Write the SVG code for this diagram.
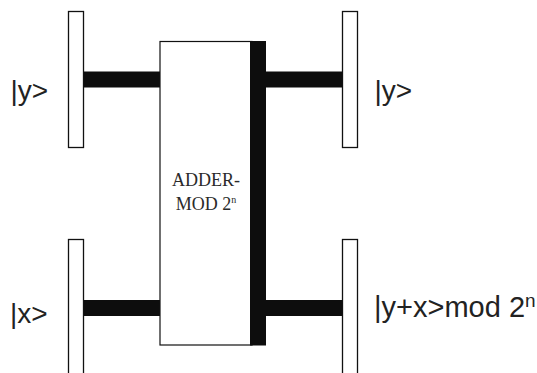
<svg xmlns="http://www.w3.org/2000/svg" width="537" height="373" viewBox="0 0 537 373">
  <style>
    .reg { fill: #ffffff; stroke: #111111; stroke-width: 1.3; }
    .box { fill: #ffffff; stroke: #111111; stroke-width: 1.2; }
    .wire { fill: #0d0d0d; stroke: none; }
    .lbl { font-family: "Liberation Sans", Arial, sans-serif; font-size: 28px; fill: #222222; }
    .lbl2 { font-family: "Liberation Sans", Arial, sans-serif; font-size: 29px; fill: #222222; }
    .sup { font-family: "Liberation Sans", Arial, sans-serif; font-size: 19px; fill: #222222; }
    .btxt { font-family: "Liberation Serif", "Times New Roman", serif; font-size: 18px; fill: #2a2a2a; }
    .bsup { font-family: "Liberation Serif", "Times New Roman", serif; font-size: 10px; fill: #2a2a2a; }
  </style>
  <rect width="537" height="373" fill="#ffffff"/>

  <g id="connectors">
    <rect class="wire" x="83" y="71.5" width="77" height="16"/>
    <rect class="wire" x="83" y="300" width="77" height="16"/>
    <rect class="wire" x="266" y="71.5" width="76.5" height="16"/>
    <rect class="wire" x="266" y="300" width="76.5" height="16"/>
  </g>

  <g id="in-y">
    <rect class="reg" x="68.5" y="11.5" width="15" height="136"/>
    <text class="lbl" x="10.5" y="100">|y&gt;</text>
  </g>

  <g id="in-x">
    <rect class="reg" x="68.5" y="239.5" width="15" height="140"/>
    <text class="lbl" x="10" y="323">|x&gt;</text>
  </g>

  <g id="adder">
    <rect class="box" x="160" y="41.5" width="92" height="303.5"/>
    <rect class="wire" x="250" y="41" width="16" height="304.5"/>
    <text class="btxt" x="206" y="186" text-anchor="middle">ADDER-</text>
    <text class="btxt" x="206" y="210" text-anchor="middle">MOD 2<tspan class="bsup" dy="-7">n</tspan></text>
  </g>

  <g id="out-y">
    <rect class="reg" x="342.5" y="11.5" width="15" height="136"/>
    <text class="lbl" x="374.5" y="100">|y&gt;</text>
  </g>

  <g id="out-sum">
    <rect class="reg" x="342.5" y="239.5" width="15" height="140"/>
    <text class="lbl2" x="374" y="317">|y+x&gt;mod 2<tspan class="sup" dy="-10">n</tspan></text>
  </g>
</svg>
